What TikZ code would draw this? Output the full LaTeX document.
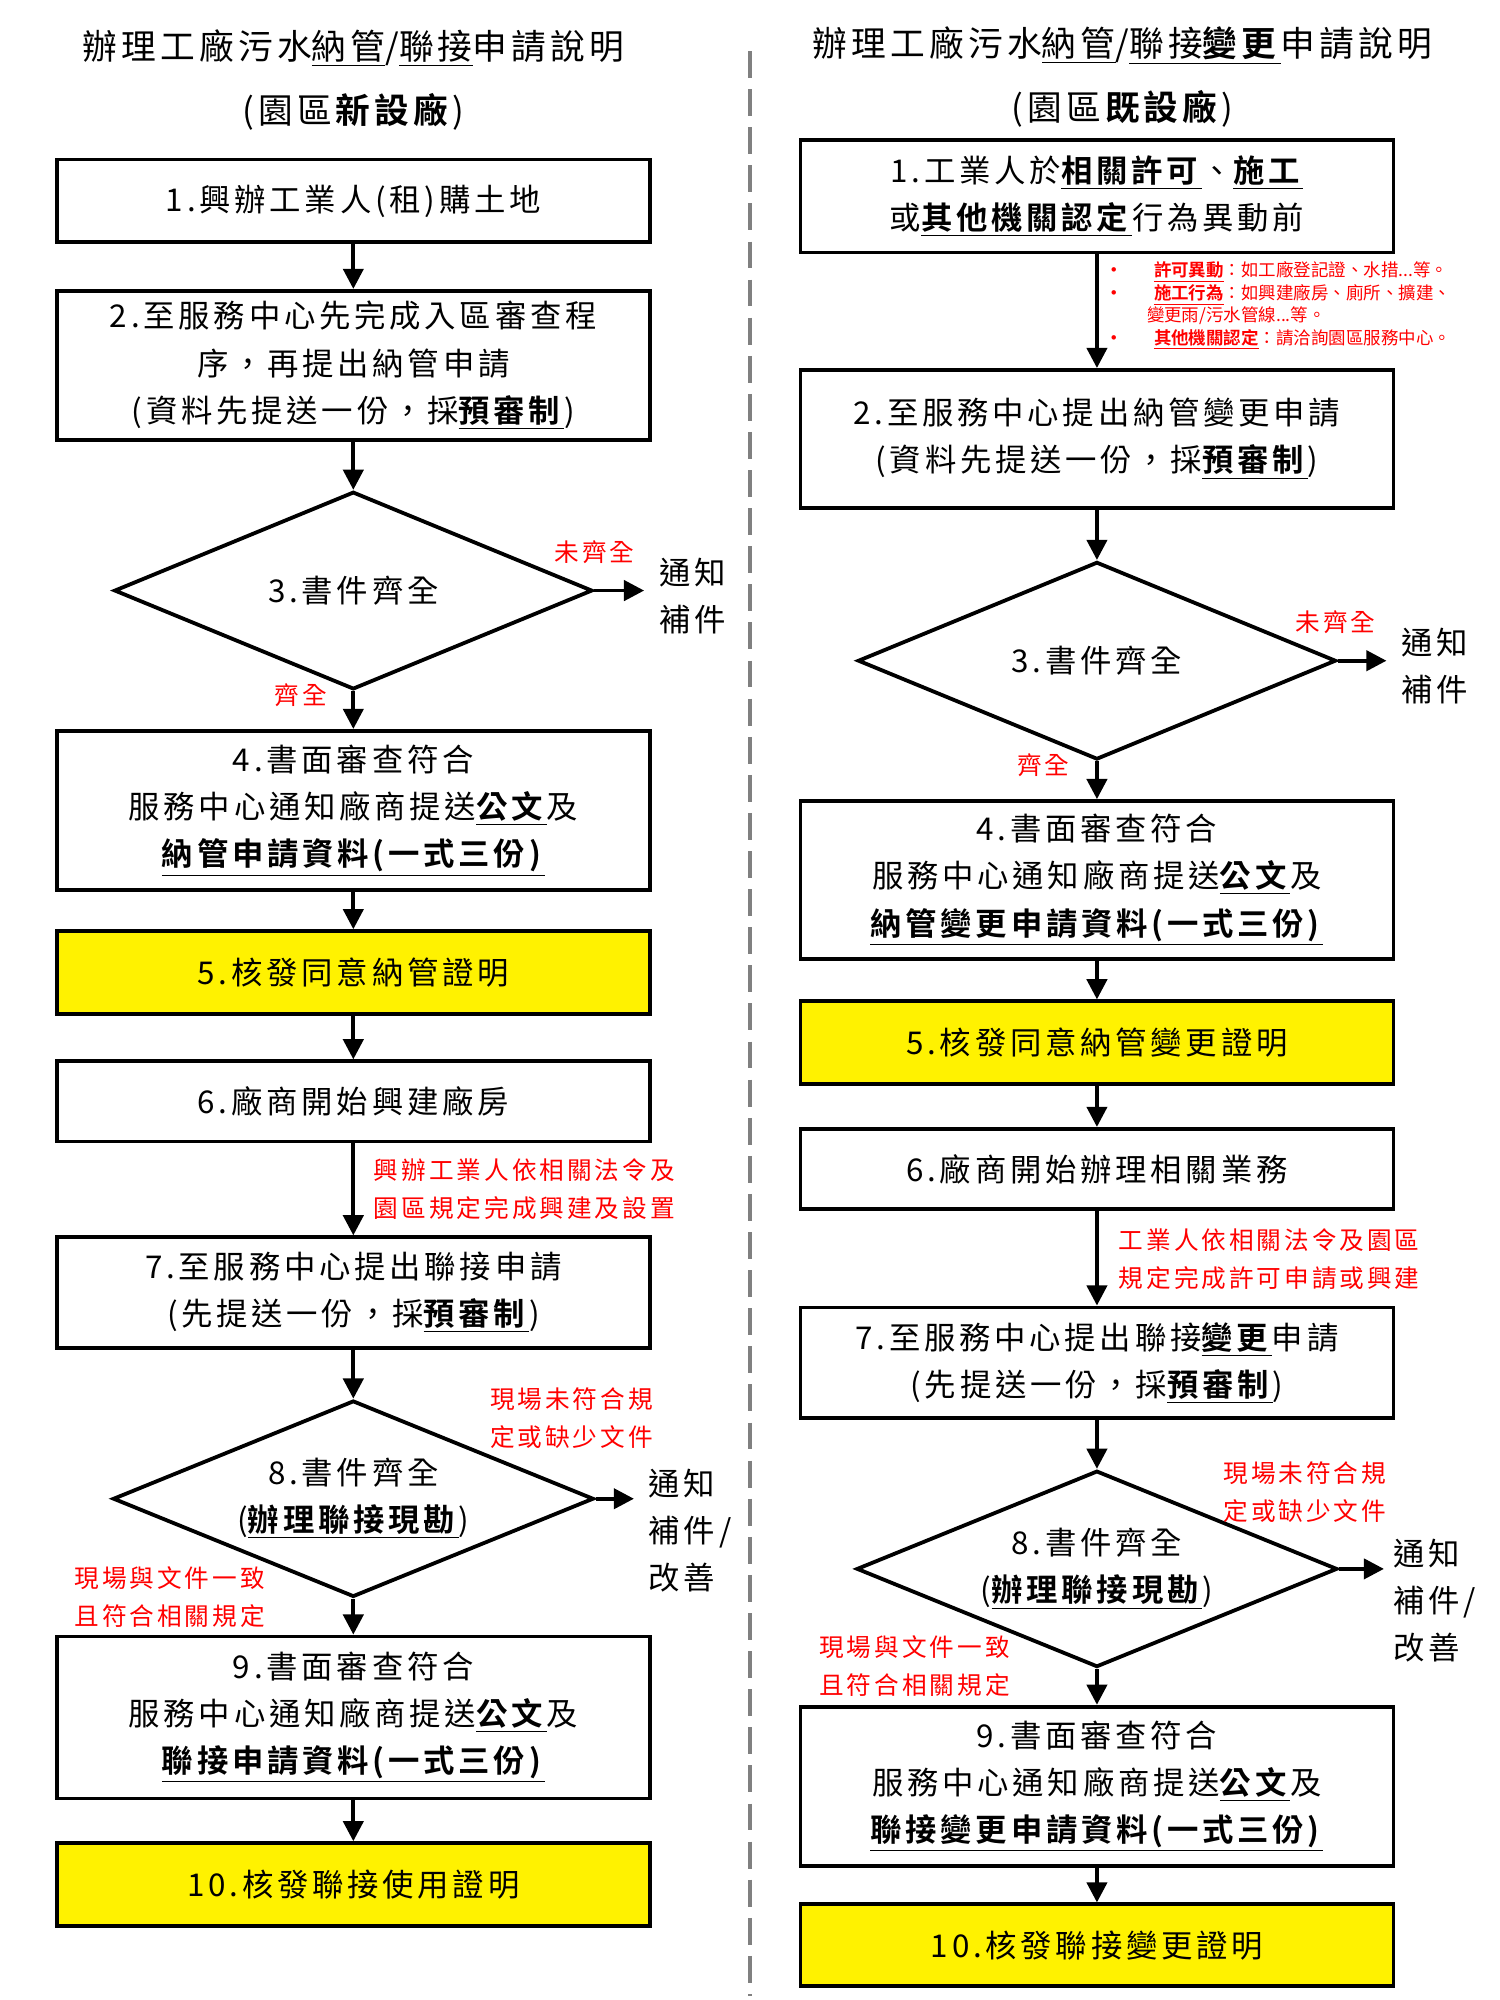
\documentclass[tikz,border=0pt]{standalone}
\usepackage{fontspec}
\setmainfont{Noto Sans CJK TC}[BoldFont={Noto Sans CJK TC Bold},LetterSpace=12]
\newfontfamily\notefont{Noto Sans CJK TC}[BoldFont={Noto Sans CJK TC Bold}]
\usetikzlibrary{arrows.meta,shapes.geometric}
\newcommand{\ub}[1]{\underline{\textbf{#1}}}
\begin{document}
\begin{tikzpicture}[x=0.02cm,y=-0.02cm,
 box/.style={draw,line width=1.7pt,minimum width=9.3cm,align=center,font=\fontsize{14}{21}\selectfont,inner sep=0pt},
 ybox/.style={box,fill=yellow},
 dia/.style={draw,diamond,line width=1.7pt,aspect=2.45,inner sep=0pt,align=center,font=\fontsize{14}{21}\selectfont},
 arr/.style={line width=1.7pt,-{Triangle[length=9pt,width=9pt]}},
 red/.style={text=red,font=\fontsize{11}{17}\selectfont,align=left},
 ntf/.style={font=\fontsize{14}{21}\selectfont,align=left},
 ttl/.style={font=\fontsize{15.5}{20}\selectfont}]
\useasboundingbox (0,0) rectangle (1176,1568);
\draw[gray,dashed,line width=1.5pt,dash pattern=on 12pt off 5pt] (588,40) -- (588,1565);
% titles
\node[ttl] (tl1) at (277,38) {辦理工廠污水\underline{納管}/\underline{聯接}申請說明};
\node[ttl] (tl2) at (277,88) {(園區\textbf{新設廠})};
\node[ttl] (tr1) at (880,36) {辦理工廠污水\underline{納管}/\underline{聯接}\ub{變更}申請說明};
\node[ttl] (tr2) at (880,85) {(園區\textbf{既設廠})};
% left column
\node[box,minimum height=1.3cm] (l1) at (277,157.5) {1.興辦工業人(租)購土地};
\node[box,minimum height=2.34cm] (l2) at (277,286.5) {2.至服務中心先完成入區審查程\\序，再提出納管申請\\(資料先提送一份，採\ub{預審制})};
\node[dia,minimum width=7.5cm,minimum height=3.1cm] (l3) at (277,463) {3.書件齊全};
\node[ntf] (ln3) at (543,467) {通知\\補件};
\node[box,minimum height=2.5cm] (l4) at (277,635.5) {4.書面審查符合\\服務中心通知廠商提送\ub{公文}及\\\ub{納管申請資料(一式三份)}};
\node[ybox,minimum height=1.3cm] (l5) at (277,762.5) {5.核發同意納管證明};
\node[box,minimum height=1.26cm] (l6) at (277,863.5) {6.廠商開始興建廠房};
\node[box,minimum height=1.74cm] (l7) at (277,1013.5) {7.至服務中心提出聯接申請\\(先提送一份，採\ub{預審制})};
\node[dia,minimum width=7.54cm,minimum height=3.08cm] (l8) at (277,1175) {8.書件齊全\\(\ub{辦理聯接現勘})};
\node[ntf] (ln8) at (541,1200) {通知\\補件/\\改善};
\node[box,minimum height=2.54cm] (l9) at (277,1346.5) {9.書面審查符合\\服務中心通知廠商提送\ub{公文}及\\\ub{聯接申請資料(一式三份)}};
\node[ybox,minimum height=1.3cm] (l10) at (277,1477.5) {10.核發聯接使用證明};
\node[red] (lr1) at (466,433) {未齊全};
\node[red] (lr2) at (236,545) {齊全};
\node[red,anchor=west] (lr3) at (287,932) {興辦工業人依相關法令及\\園區規定完成興建及設置};
\node[red] (lr4) at (448,1112) {現場未符合規\\定或缺少文件};
\node[red] (lr5) at (133,1252) {現場與文件一致\\且符合相關規定};
\draw[arr] (l1) -- (l2);
\draw[arr] (l2) -- (l3);
\draw[arr] (l3.east) -- (505,463);
\draw[arr] (l3) -- (l4);
\draw[arr] (l4) -- (l5);
\draw[arr] (l5) -- (l6);
\draw[arr] (l6) -- (l7);
\draw[arr] (l7) -- (l8);
\draw[arr] (l8.east) -- (497,1175);
\draw[arr] (l8) -- (l9);
\draw[arr] (l9) -- (l10);
% right column
\node[box,minimum height=1.76cm] (r1) at (860,154) {1.工業人於\ub{相關許可}、\ub{施工}\\或\ub{其他機關認定}行為異動前};
\node[box,minimum height=2.16cm] (r2) at (860,344) {2.至服務中心提出納管變更申請\\(資料先提送一份，採\ub{預審制})};
\node[dia,minimum width=7.5cm,minimum height=3.1cm] (r3) at (860,518) {3.書件齊全};
\node[ntf] (rn3) at (1125,522) {通知\\補件};
\node[box,minimum height=2.48cm] (r4) at (860,690) {4.書面審查符合\\服務中心通知廠商提送\ub{公文}及\\\ub{納管變更申請資料(一式三份)}};
\node[ybox,minimum height=1.3cm] (r5) at (860,817.5) {5.核發同意納管變更證明};
\node[box,minimum height=1.26cm] (r6) at (860,916.5) {6.廠商開始辦理相關業務};
\node[box,minimum height=1.74cm] (r7) at (860,1068.5) {7.至服務中心提出聯接\ub{變更}申請\\(先提送一份，採\ub{預審制})};
\node[dia,minimum width=7.54cm,minimum height=3.08cm] (r8) at (860,1230) {8.書件齊全\\(\ub{辦理聯接現勘})};
\node[ntf] (rn8) at (1125,1255) {通知\\補件/\\改善};
\node[box,minimum height=2.5cm] (r9) at (860,1400.5) {9.書面審查符合\\服務中心通知廠商提送\ub{公文}及\\\ub{聯接變更申請資料(一式三份)}};
\node[ybox,minimum height=1.28cm] (r10) at (860,1525) {10.核發聯接變更證明};
\node[red] (rr1) at (1047,488) {未齊全};
\node[red] (rr2) at (818,600) {齊全};
\node[red,anchor=west] (rr3) at (871,987) {工業人依相關法令及園區\\規定完成許可申請或興建};
\node[red] (rr4) at (1023,1170) {現場未符合規\\定或缺少文件};
\node[red] (rr5) at (717,1306) {現場與文件一致\\且符合相關規定};
\node[anchor=north west,text=red,font=\notefont\fontsize{7.8}{10}\selectfont,align=left,inner sep=0pt] (notes) at (866,205)
 {\textbf{•}\hspace{1.8em}\ub{許可異動}：如工廠登記證、水措...等。\\
  \textbf{•}\hspace{1.8em}\ub{施工行為}：如興建廠房、廁所、擴建、\\
  \hspace{2.4em}變更雨/污水管線...等。\\
  \textbf{•}\hspace{1.8em}\ub{其他機關認定}：請洽詢園區服務中心。};
\draw[arr] (r1) -- (r2);
\draw[arr] (r2) -- (r3);
\draw[arr] (r3.east) -- (1087,518);
\draw[arr] (r3) -- (r4);
\draw[arr] (r4) -- (r5);
\draw[arr] (r5) -- (r6);
\draw[arr] (r6) -- (r7);
\draw[arr] (r7) -- (r8);
\draw[arr] (r8.east) -- (1085,1230);
\draw[arr] (r8) -- (r9);
\draw[arr] (r9) -- (r10);
\end{tikzpicture}
\end{document}
